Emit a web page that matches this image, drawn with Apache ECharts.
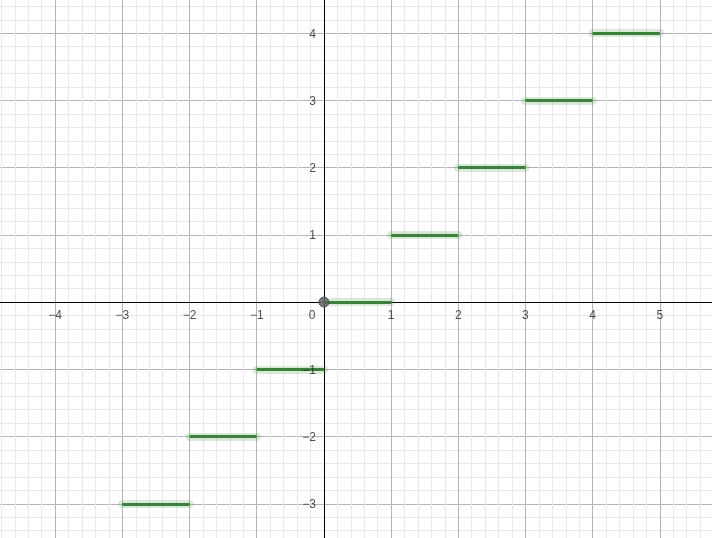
<!DOCTYPE html>
<html>
<head>
<meta charset="utf-8">
<script src="https://cdn.jsdelivr.net/npm/echarts@6/dist/echarts.min.js"></script>
<style>
html,body{margin:0;padding:0;width:712px;height:538px;overflow:hidden;background:#fff;}
#chart{position:absolute;left:-12px;top:-34px;width:739px;height:605px;}
</style>
</head>
<body>
<div id="chart"></div>
<script>
// floor(x) steps: segment [start, start+1) at y = start
const stepStarts = [-3, -2, -1, 0, 1, 2, 3, 4];
const stepValues = [-3, -2, -1, 0, 1, 2, 3, 4];
const xTicks = [-4, -3, -2, -1, 1, 2, 3, 4, 5];
const xTickLabels = ['−4', '−3', '−2', '−1', '1', '2', '3', '4', '5'];
const yTicks = [-3, -2, -1, 1, 2, 3, 4];
const yTickLabels = ['−3', '−2', '−1', '1', '2', '3', '4'];
const originPoint = [[0, 0]];
const originLabel = '0';

const segs = stepStarts.map((s, i) => ({coords: [[s, stepValues[i]], [s + 1, stepValues[i]]]}));

const chart = echarts.init(document.getElementById('chart'));
const font = {color:'#222', fontSize:12, fontFamily:'Liberation Sans, Arial, sans-serif'};
const axisCommon = {
  type:'value', interval:1,
  axisLine:{onZero:true, lineStyle:{color:'#000', width:1}},
  axisTick:{show:false},
  axisLabel:{show:false},
  splitLine:{show:true, lineStyle:{color:'#b4b4b4', width:1}},
  minorTick:{show:false, splitNumber:5},
  minorSplitLine:{show:true, lineStyle:{color:'#e8e8e8', width:1}}
};
chart.setOption({
  animation:false,
  grid:{left:0,right:0,top:0,bottom:0, containLabel:false, outerBoundsMode:'none'},
  xAxis:Object.assign({min:-5, max:6}, axisCommon),
  yAxis:Object.assign({min:-4, max:5}, axisCommon),
  series:[
    {type:'lines', coordinateSystem:'cartesian2d', data:segs, silent:true,
      lineStyle:{color:'rgba(80,160,80,0.22)', width:8, cap:'round', opacity:1}},
    {type:'lines', coordinateSystem:'cartesian2d', data:segs, silent:true,
      lineStyle:{color:'#3b803b', width:3, cap:'butt', opacity:1}},
    {type:'scatter', silent:true, symbolSize:0, z:6,
      data:xTicks.map((v, i) => ({value:[v, 0], name:xTickLabels[i]})),
      label:Object.assign({show:true, formatter:'{b}', position:'bottom', distance:8}, font)},
    {type:'scatter', silent:true, symbolSize:0, z:6,
      data:yTicks.map((v, i) => ({value:[0, v], name:yTickLabels[i]})),
      label:Object.assign({show:true, formatter:'{b}', position:'left', distance:8, offset:[0,1]}, font)},
    {type:'scatter', data:originPoint, symbolSize:10, z:5, silent:true,
      itemStyle:{color:'#5f5f5f', borderColor:'#4a4a4a', borderWidth:1},
      label:Object.assign({show:true, formatter:originLabel, position:'left', distance:3, offset:[0,14]}, font)}
  ]
});
</script>
</body>
</html>
